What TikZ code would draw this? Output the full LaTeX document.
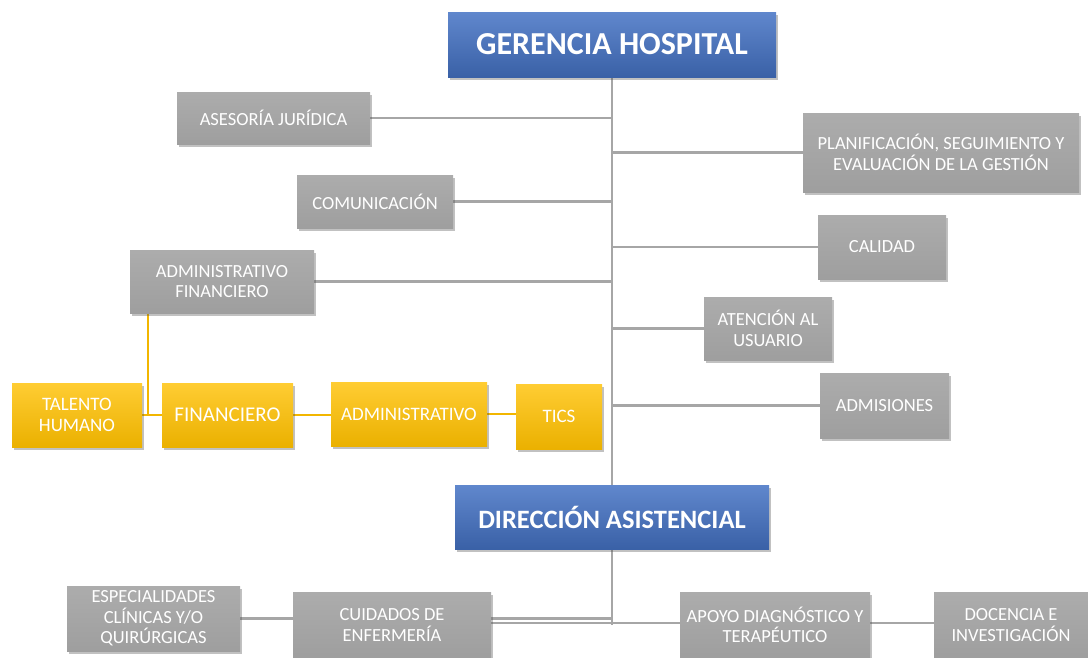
\documentclass[tikz,border=0pt]{standalone}
\usepackage{fontspec}
\setmainfont{Carlito}
\usetikzlibrary{shadows,backgrounds}
\definecolor{boxgray}{HTML}{A5A5A5}
\definecolor{linegray}{HTML}{A6A6A6}
\definecolor{gold}{HTML}{FFC000}
\definecolor{royal}{HTML}{4472C4}
\tikzset{
  unit/.style={text=white, align=center, inner sep=2pt,
    drop shadow={shadow xshift=2pt, shadow yshift=-3pt, opacity=0.35, fill=black!70}},
  greybox/.style 2 args={unit, minimum width=#1pt, minimum height=#2pt,
    top color=boxgray!92, bottom color=boxgray!96!black, font=\fontsize{18.5}{20.5}\selectfont},
  goldbox/.style 2 args={unit, minimum width=#1pt, minimum height=#2pt,
    top color=gold!80, bottom color=gold!92!black, font=\fontsize{19}{21}\selectfont},
  headbox/.style 2 args={unit, minimum width=#1pt, minimum height=#2pt,
    top color=royal!85, bottom color=royal!85!black, font=\fontsize{32}{34}\selectfont\bfseries},
  link/.style={draw=linegray, line width=2.5pt},
  goldlink/.style={draw=gold!95!black, line width=2.5pt}
}
\begin{document}
\begin{tikzpicture}[x=1pt, y=-1pt]
    \useasboundingbox (0,0) rectangle (1088,657);
    \clip (0,0) rectangle (1088,657);
    \node[headbox={328}{65}] (ger) at (612,44.5) {GERENCIA HOSPITAL};
    \node[headbox={314}{64}, font=\fontsize{26.5}{28}\selectfont\bfseries] (dir) at (612,517) {DIRECCIÓN ASISTENCIAL};
    \node[greybox={193}{52}] (ase) at (273.5,118) {ASESORÍA JURÍDICA};
    \node[greybox={276}{79}] (pla) at (941,152.5) {PLANIFICACIÓN, SEGUIMIENTO Y\\EVALUACIÓN DE LA GESTIÓN};
    \node[greybox={156}{53}] (com) at (375,201.5) {COMUNICACIÓN};
    \node[greybox={128}{64}] (cal) at (882,247) {CALIDAD};
    \node[greybox={184}{63}] (adf) at (222,281.5) {ADMINISTRATIVO\\FINANCIERO};
    \node[greybox={128}{63}] (ate) at (768,328.5) {ATENCIÓN AL\\USUARIO};
    \node[greybox={129}{65}] (adm) at (884.5,405.5) {ADMISIONES};
    \node[goldbox={130}{64}] (tal) at (77,415) {TALENTO\\HUMANO};
    \node[goldbox={131}{64}, font=\fontsize{21}{23}\selectfont] (fin) at (227.5,415) {FINANCIERO};
    \node[goldbox={156}{64}] (adv) at (409,414) {ADMINISTRATIVO};
    \node[goldbox={86}{65}] (tic) at (559,416.5) {TICS};
    \node[greybox={173}{65}] (esp) at (153.5,618.5) {ESPECIALIDADES\\CLÍNICAS Y/O\\QUIRÚRGICAS};
    \node[greybox={198}{66}] (cui) at (392,625) {CUIDADOS DE\\ENFERMERÍA};
    \node[greybox={190}{66}] (apo) at (775,625) {APOYO DIAGNÓSTICO Y\\TERAPÉUTICO};
    \node[greybox={154}{66}] (doc) at (1011,625) {DOCENCIA E\\INVESTIGACIÓN};
    \coordinate (jn) at (612,623);
    % connectors sit behind the boxes
    \begin{scope}[on background layer]
    \draw[link] (ger.south) -- (dir.north);
    \draw[link] (dir.south) -- ([yshift=-2pt]jn);
    \draw[link] (ase) -- (ase -| ger);
    \draw[link] (pla) -- (pla -| ger);
    \draw[link] (com) -- (com -| ger);
    \draw[link] (cal) -- (cal -| ger);
    \draw[link] (adf) -- (adf -| ger);
    \draw[link] (ate) -- (ate -| ger);
    \draw[link] (adm) -- (adm -| ger);
    \draw[goldlink] ([xshift=-74pt]adf.south) -- ([xshift=-74pt]adf.south |- fin.west) -- (fin.west);
    \draw[goldlink] (tal) -- (fin);
    \draw[goldlink] (fin) -- (fin -| adv.west);
    \draw[goldlink] (adv.east) -- (adv.east -| tic.west);
    \draw[link] (esp) -- (esp -| jn);
    \draw[link] (cui.east |- jn) -- (jn) -- (jn -| doc.west);
    \end{scope}
\end{tikzpicture}
\end{document}
